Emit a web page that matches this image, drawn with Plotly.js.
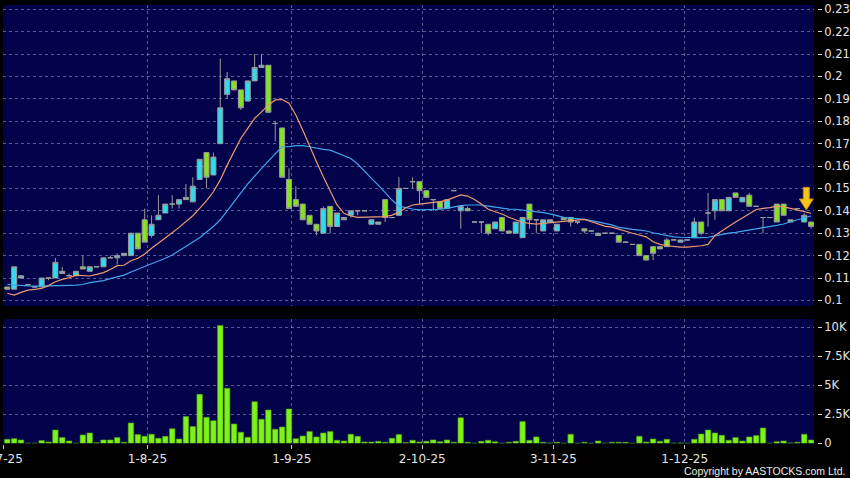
<!DOCTYPE html>
<html>
<head>
<meta charset="utf-8">
<script src="https://cdn.plot.ly/plotly-3.0.1.min.js"></script>
<style>
html,body{margin:0;padding:0;background:#000;}
#chart{width:850px;height:478px;}
</style>
</head>
<body>
<div id="chart"></div>
<script>
// ---- data ----
const openP  = [0.106,0.105,0.110,0.107,0.106,0.106,0.110,0.110,0.113,0.111,
                0.111,0.115,0.113,0.115,0.115,0.119,0.119,0.120,0.120,0.130,
                0.136,0.129,0.136,0.139,0.143,0.143,0.146,0.144,0.154,0.166,
                0.156,0.170,0.192,0.198,0.194,0.189,0.198,0.204,0.205,0.179,
                0.177,0.154,0.145,0.143,0.138,0.134,0.130,0.142,0.133,0.136,
                0.138,0.140,0.140,0.134,0.134,0.145,0.137,0.138,0.150,0.153,
                0.153,0.149,0.145,0.144,0.141,0.149,0.140,0.141,0.135,0.135,
                0.134,0.132,0.137,0.131,0.130,0.128,0.143,0.136,0.131,0.135,
                0.131,0.137,0.137,0.135,0.132,0.131,0.129,0.130,0.130,0.129,
                0.126,0.125,0.125,0.120,0.124,0.124,0.127,0.127,0.126,0.127,
                0.128,0.135,0.139,0.140,0.145,0.140,0.148,0.144,0.147,0.142,
                0.137,0.137,0.143,0.143,0.136,0.141,0.135,0.135];
const highP  = [0.106,0.115,0.111,0.107,0.106,0.110,0.110,0.119,0.115,0.112,
                0.113,0.120,0.115,0.115,0.119,0.120,0.121,0.121,0.130,0.130,
                0.141,0.138,0.147,0.143,0.147,0.145,0.152,0.155,0.163,0.166,
                0.166,0.208,0.202,0.198,0.194,0.198,0.210,0.210,0.205,0.180,
                0.177,0.159,0.151,0.143,0.138,0.134,0.142,0.142,0.139,0.137,
                0.140,0.140,0.140,0.136,0.135,0.145,0.137,0.155,0.150,0.155,
                0.153,0.149,0.145,0.144,0.145,0.149,0.142,0.142,0.135,0.135,
                0.134,0.135,0.137,0.131,0.135,0.137,0.143,0.136,0.136,0.136,
                0.134,0.137,0.137,0.135,0.132,0.131,0.130,0.130,0.130,0.129,
                0.126,0.125,0.125,0.120,0.124,0.124,0.128,0.127,0.127,0.127,
                0.137,0.135,0.148,0.145,0.145,0.146,0.148,0.146,0.148,0.142,
                0.137,0.137,0.143,0.143,0.136,0.141,0.139,0.135];
const lowP   = [0.105,0.105,0.110,0.107,0.106,0.106,0.109,0.110,0.112,0.111,
                0.111,0.114,0.113,0.115,0.115,0.119,0.116,0.120,0.120,0.123,
                0.126,0.128,0.136,0.139,0.141,0.141,0.145,0.144,0.154,0.150,
                0.156,0.170,0.190,0.194,0.185,0.189,0.198,0.204,0.184,0.171,
                0.155,0.141,0.142,0.136,0.134,0.129,0.130,0.130,0.133,0.136,
                0.137,0.138,0.140,0.134,0.134,0.135,0.137,0.138,0.150,0.150,
                0.143,0.146,0.140,0.141,0.141,0.149,0.132,0.140,0.135,0.130,
                0.129,0.132,0.131,0.130,0.130,0.128,0.132,0.130,0.131,0.135,
                0.131,0.136,0.133,0.134,0.130,0.131,0.129,0.130,0.130,0.126,
                0.126,0.125,0.120,0.118,0.118,0.123,0.124,0.127,0.126,0.127,
                0.128,0.129,0.133,0.136,0.140,0.140,0.146,0.144,0.142,0.142,
                0.130,0.137,0.135,0.138,0.135,0.141,0.135,0.132];
const closeP = [0.105,0.115,0.111,0.107,0.106,0.110,0.110,0.117,0.112,0.111,
                0.113,0.114,0.115,0.115,0.119,0.119,0.120,0.121,0.130,0.123,
                0.126,0.134,0.138,0.143,0.143,0.145,0.145,0.151,0.163,0.155,
                0.164,0.186,0.199,0.194,0.186,0.198,0.204,0.205,0.184,0.179,
                0.155,0.141,0.142,0.136,0.134,0.131,0.141,0.133,0.139,0.137,
                0.140,0.140,0.140,0.136,0.135,0.137,0.137,0.150,0.150,0.153,
                0.149,0.146,0.145,0.141,0.145,0.149,0.142,0.140,0.135,0.135,
                0.130,0.135,0.131,0.130,0.135,0.137,0.136,0.136,0.136,0.136,
                0.134,0.136,0.135,0.135,0.131,0.131,0.130,0.130,0.130,0.126,
                0.126,0.125,0.120,0.118,0.121,0.123,0.124,0.127,0.127,0.127,
                0.135,0.130,0.139,0.145,0.140,0.146,0.146,0.146,0.142,0.142,
                0.137,0.137,0.135,0.138,0.135,0.141,0.138,0.133];
const maShort = [0.1032,0.1024,0.1036,0.1046,0.1049,0.1054,0.1066,0.1083,0.1094,0.1101,
                 0.1113,0.1110,0.1109,0.1116,0.1124,0.1138,0.1155,0.1157,0.1177,0.1188,
                 0.1207,0.1233,0.1255,0.1277,0.1302,0.1326,0.1351,0.1378,0.1411,0.1445,
                 0.1485,0.1538,0.1604,0.1664,0.1724,0.1768,0.1813,0.1842,0.1872,0.1895,
                 0.1897,0.1880,0.1828,0.1761,0.1694,0.1619,0.1552,0.1485,0.1426,0.1389,
                 0.1377,0.1371,0.1371,0.1371,0.1371,0.1374,0.1381,0.1393,0.1414,0.1426,
                 0.1430,0.1433,0.1436,0.1441,0.1448,0.1460,0.1471,0.1466,0.1451,0.1430,
                 0.1407,0.1396,0.1386,0.1371,0.1359,0.1349,0.1344,0.1341,0.1344,0.1347,
                 0.1351,0.1351,0.1356,0.1359,0.1362,0.1351,0.1341,0.1332,0.1327,0.1317,
                 0.1307,0.1300,0.1292,0.1284,0.1262,0.1250,0.1244,0.1240,0.1238,0.1238,
                 0.1240,0.1244,0.1250,0.1290,0.1310,0.1332,0.1350,0.1368,0.1388,0.1406,
                 0.1411,0.1414,0.1421,0.1418,0.1411,0.1404,0.1396,0.1389];
const maLong  = [0.1071,0.1068,0.1067,0.1065,0.1064,0.1064,0.1065,0.1065,0.1065,0.1067,
                 0.1068,0.1071,0.1079,0.1083,0.1088,0.1097,0.1106,0.1113,0.1127,0.1139,
                 0.1150,0.1162,0.1174,0.1188,0.1203,0.1222,0.1240,0.1258,0.1280,0.1305,
                 0.1330,0.1360,0.1400,0.1445,0.1480,0.1520,0.1555,0.1590,0.1620,0.1655,
                 0.1686,0.1686,0.1691,0.1691,0.1686,0.1679,0.1674,0.1671,0.1659,0.1649,
                 0.1634,0.1609,0.1575,0.1545,0.1515,0.1481,0.1448,0.1421,0.1414,0.1408,
                 0.1404,0.1404,0.1404,0.1407,0.1411,0.1418,0.1423,0.1426,0.1426,0.1426,
                 0.1421,0.1416,0.1411,0.1408,0.1407,0.1404,0.1399,0.1396,0.1392,0.1386,
                 0.1377,0.1371,0.1367,0.1366,0.1362,0.1356,0.1350,0.1343,0.1337,0.1326,
                 0.1320,0.1317,0.1314,0.1310,0.1302,0.1295,0.1289,0.1284,0.1282,0.1280,
                 0.1280,0.1280,0.1282,0.1288,0.1295,0.1300,0.1304,0.1308,0.1314,0.1319,
                 0.1325,0.1329,0.1335,0.1341,0.1351,0.1359,0.1369,0.1377];
const volumeK = [0.34,0.40,0.29,0,0,0.23,0.11,1.15,0.49,0.20,
                 0,0.72,0.89,0.05,0.29,0.29,0.49,0.09,1.75,0.75,
                 0.60,0.78,0.43,0.60,1.26,0.37,2.30,1.44,4.22,2.24,
                 1.95,10.17,4.74,1.67,0.95,0.52,3.59,2.07,2.87,1.21,
                 1.41,2.96,0.40,0.63,1.01,0.55,0.89,1.01,0.26,0.20,
                 0.78,0.60,0.11,0.11,0.17,0.09,0.43,0.75,0.06,0.26,
                 0.11,0.17,0.29,0.14,0.29,0.09,2.21,0.09,0,0.17,
                 0.26,0.14,0,0.09,0.17,1.87,0.26,0.55,0.09,0.03,
                 0.09,0,0.78,0,0.09,0,0.20,0,0.09,0.09,
                 0.09,0,0.60,0.11,0.37,0.17,0.34,0,0.03,0,
                 0.34,0.80,1.15,0.89,0.69,0.26,0.49,0.20,0.55,0.66,
                 1.32,0,0.14,0.20,0.03,0.09,0.78,0.29];
const dateLabels = ['2-7-25','1-8-25','1-9-25','2-10-25','3-11-25','1-12-25'];
const dateBarPos = [-0.6, 20.4, 41.4, 60.4, 79.5, 98.6];
const priceTicks = [0.10,0.11,0.12,0.13,0.14,0.15,0.16,0.17,0.18,0.19,0.20,0.21,0.22,0.23];
const priceTickText = ['0.1','0.11','0.12','0.13','0.14','0.15','0.16','0.17','0.18','0.19','0.2','0.21','0.22','0.23'];
const volTicks = [0,2.5,5,7.5,10];
const volTickText = ['0','2.5K','5K','7.5K','10K'];

// ---- build ----
const bars = openP.map((_, i) => i);
const W = 850, H = 478;
const px = v => v / W, py = v => 1 - v / H;

const gridStyle = {gridcolor:'rgba(165,165,205,0.55)', griddash:'3px,3px', gridwidth:1};
const xRange = [-0.626, 117.42];

const traces = [
  {
    type:'candlestick', x:bars, open:openP, high:highP, low:lowP, close:closeP,
    xaxis:'x', yaxis:'y',
    increasing:{fillcolor:'#2fdcee', line:{color:'#9a9a9a', width:1}},
    decreasing:{fillcolor:'#86e41c', line:{color:'#9a9a9a', width:1}},
    whiskerwidth:0, hoverinfo:'skip', showlegend:false
  },
  {type:'scatter', mode:'lines', x:bars, y:maLong, xaxis:'x', yaxis:'y',
   line:{color:'#42a6ee', width:1.2}, hoverinfo:'skip', showlegend:false},
  {type:'scatter', mode:'lines', x:bars, y:maShort, xaxis:'x', yaxis:'y',
   line:{color:'#ee9a70', width:1.2}, hoverinfo:'skip', showlegend:false},
  {type:'bar', x:bars, y:volumeK, xaxis:'x2', yaxis:'y2', width:0.8,
   marker:{color:'#7ef01a', line:{color:'#4f9e10', width:0.6}},
   hoverinfo:'skip', showlegend:false}
];

const layout = {
  width:W, height:H,
  margin:{l:0, r:0, t:0, b:0},
  paper_bgcolor:'#000000',
  plot_bgcolor:'#02024a',
  font:{family:'DejaVu Sans', color:'#e4e4e4', size:12},
  showlegend:false,
  boxgap:0.27, boxgroupgap:0,
  bargap:0.1,
  xaxis:Object.assign({
    domain:[px(3), px(814)], range:xRange, anchor:'y',
    tickmode:'array', tickvals:dateBarPos, ticktext:dateLabels,
    showticklabels:false, ticks:'', showline:false, zeroline:false,
    rangeslider:{visible:false}, fixedrange:true
  }, gridStyle),
  yaxis:Object.assign({
    domain:[py(306), py(5)], range:[0.0975, 0.2319],
    side:'right', anchor:'free', position:px(817),
    tickmode:'array', tickvals:priceTicks, ticktext:priceTickText,
    ticks:'outside', ticklen:4, tickcolor:'#d8d8d8', tickwidth:1,
    tickfont:{size:11.5, color:'#e4e4e4'},
    showline:false, zeroline:false, fixedrange:true
  }, gridStyle),
  xaxis2:Object.assign({
    domain:[px(3), px(814)], range:xRange, anchor:'y2',
    tickmode:'array', tickvals:dateBarPos, ticktext:dateLabels,
    ticks:'outside', ticklen:4, tickcolor:'#c8c8c8', tickwidth:1,
    tickfont:{size:12, color:'#e4e4e4'}, ticklabeloverflow:'allow',
    showline:false, zeroline:false, fixedrange:true
  }, gridStyle),
  yaxis2:Object.assign({
    domain:[py(443.5), py(319)], range:[-0.02, 10.72],
    side:'right', anchor:'free', position:px(817),
    tickmode:'array', tickvals:volTicks, ticktext:volTickText,
    ticks:'outside', ticklen:4, tickcolor:'#d8d8d8', tickwidth:1,
    tickfont:{size:11.5, color:'#e4e4e4'},
    showline:false, zeroline:false, fixedrange:true
  }, gridStyle),
  shapes:[
    {type:'path', xref:'paper', yref:'paper', layer:'above',
     path:'M '+px(803.3)+','+py(187.3)+' L '+px(809.3)+','+py(187.3)+
          ' L '+px(809.3)+','+py(199)+' L '+px(813.3)+','+py(199)+
          ' L '+px(806.3)+','+py(210)+' L '+px(799.3)+','+py(199)+
          ' L '+px(803.3)+','+py(199)+' Z',
     fillcolor:'#f7c41c', line:{color:'#c98a00', width:1}}
  ],
  annotations:[
    {text:'Copyright by AASTOCKS.com Ltd.', xref:'paper', yref:'paper',
     x:px(847), y:py(471), xanchor:'right', yanchor:'middle', showarrow:false,
     font:{family:'Liberation Sans', size:10.5, color:'#ececec'}}
  ]
};

Plotly.newPlot('chart', traces, layout, {staticPlot:true, displayModeBar:false});
</script>
</body>
</html>
